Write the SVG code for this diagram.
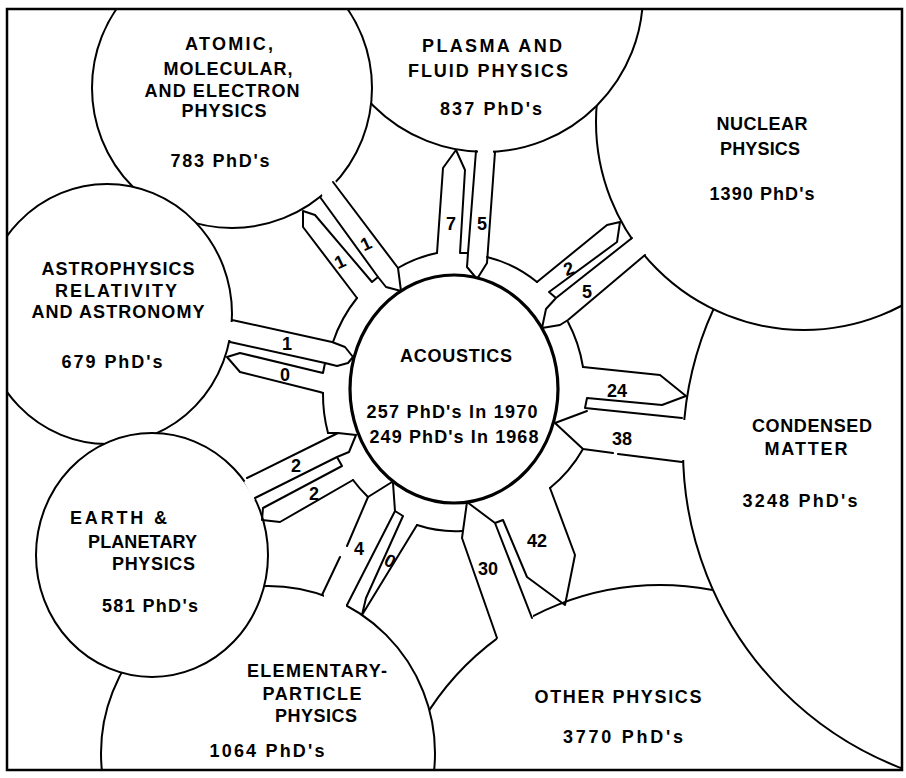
<svg xmlns="http://www.w3.org/2000/svg" width="906" height="778" viewBox="0 0 906 778">
<style>
.c{fill:#fff;stroke:#000;stroke-width:2}
.l{fill:none;stroke:#000;stroke-width:2;stroke-linejoin:round;stroke-linecap:round}
.m{fill:#fff;stroke:none}
.t{font-family:"Liberation Sans",Arial,sans-serif;font-weight:bold;font-size:18px;fill:#000;text-anchor:middle}
.s{text-anchor:start}
.n{font-family:"Liberation Sans",Arial,sans-serif;font-weight:bold;font-size:18px;fill:#000;text-anchor:middle}
</style>
<defs><clipPath id="fr"><rect x="7" y="9" width="895" height="761"/></clipPath></defs>
<rect width="906" height="778" fill="#fff"/>
<g clip-path="url(#fr)">
<g id="other-physics"><circle class="c" cx="660" cy="860" r="275"/>
<text class="t" x="618" y="703" textLength="167" lengthAdjust="spacing">OTHER PHYSICS</text>
<text class="t" x="623" y="743" textLength="120" lengthAdjust="spacing">3770 PhD's</text></g>
<g id="condensed-matter"><circle class="c" cx="1024" cy="450" r="341"/>
<text class="t" x="812" y="432" textLength="120" lengthAdjust="spacing">CONDENSED</text>
<text class="t" x="806" y="455" textLength="83" lengthAdjust="spacing">MATTER</text>
<text class="t" x="800" y="507" textLength="115" lengthAdjust="spacing">3248 PhD's</text></g>
<g id="nuclear"><circle class="c" cx="804" cy="122" r="208"/>
<text class="t" x="762" y="130" textLength="91" lengthAdjust="spacing">NUCLEAR</text>
<text class="t" x="760" y="155" textLength="80" lengthAdjust="spacing">PHYSICS</text>
<text class="t" x="762" y="200" textLength="105" lengthAdjust="spacing">1390 PhD's</text></g>
<g id="plasma"><circle class="c" cx="485" cy="-6" r="158"/>
<text class="t" x="492" y="52" textLength="140" lengthAdjust="spacing">PLASMA AND</text>
<text class="t" x="488" y="77" textLength="160" lengthAdjust="spacing">FLUID PHYSICS</text>
<text class="t" x="491" y="115" textLength="102" lengthAdjust="spacing">837 PhD's</text></g>
<g id="atomic"><circle class="c" cx="232" cy="88" r="140"/>
<text class="t" x="229" y="50" textLength="88" lengthAdjust="spacing">ATOMIC,</text>
<text class="t" x="228" y="75" textLength="129" lengthAdjust="spacing">MOLECULAR,</text>
<text class="t" x="222" y="97" textLength="155" lengthAdjust="spacing">AND ELECTRON</text>
<text class="t" x="224" y="117" textLength="85" lengthAdjust="spacing">PHYSICS</text>
<text class="t" x="220" y="167" textLength="99" lengthAdjust="spacing">783 PhD's</text></g>
<g id="astrophysics"><ellipse class="c" cx="107" cy="314" rx="125" ry="130"/>
<text class="t" x="118" y="275" textLength="153" lengthAdjust="spacing">ASTROPHYSICS</text>
<text class="t" x="116" y="297" textLength="122" lengthAdjust="spacing">RELATIVITY</text>
<text class="t" x="118" y="318" textLength="173" lengthAdjust="spacing">AND ASTRONOMY</text>
<text class="t" x="112" y="368" textLength="101" lengthAdjust="spacing">679 PhD's</text></g>
<g id="elementary-particle"><circle class="c" cx="268" cy="753" r="167"/>
<text class="t" x="317" y="677" textLength="140" lengthAdjust="spacing">ELEMENTARY-</text>
<text class="t" x="312" y="700" textLength="99" lengthAdjust="spacing">PARTICLE</text>
<text class="t" x="316" y="722" textLength="82" lengthAdjust="spacing">PHYSICS</text>
<text class="t" x="267" y="757" textLength="115" lengthAdjust="spacing">1064 PhD's</text></g>
<g id="earth-planetary"><ellipse class="c" cx="152" cy="555" rx="116" ry="122"/>
<text class="t s" x="70" y="524" textLength="97" lengthAdjust="spacing">EARTH &amp;</text>
<text class="t s" x="88" y="548" textLength="109" lengthAdjust="spacing">PLANETARY</text>
<text class="t s" x="112" y="570" textLength="83" lengthAdjust="spacing">PHYSICS</text>
<text class="t s" x="102" y="612" textLength="96" lengthAdjust="spacing">581 PhD's</text></g>
</g>
<g id="masks">
<polygon class="m" points="478,140 493,140 493,160 478,160"/>
<polygon class="m" points="321,192 333,178 342,190 326,206"/>
<polygon class="m" points="226,322 240,322 240,340 226,340"/>
<polygon class="m" points="244,482 252,476 262,494 254,500"/>
<polygon class="m" points="324,590 346,600 346,610 324,600"/>
<polygon class="m" points="533,612 533,622 498,644 496,633"/>
<polygon class="m" points="679,420 692,420 692,460 679,460"/>
<polygon class="m" points="630,242 636,232 650,250 642,258"/>
</g>
<g id="connectors" class="l">
<path d="M333,342 A130,139 0 0 1 357,298"/>
<path d="M398,268 A130,139 0 0 1 437,253"/>
<path d="M487,257 A130,139 0 0 1 537,282"/>
<path d="M568,322 A130,139 0 0 1 583,367"/>
<path d="M583,449 A130,139 0 0 1 550,488"/>
<path d="M462,531 A130,139 0 0 1 417,525"/>
<path d="M368,497 A130,139 0 0 1 353,480"/>
<path d="M328,433 A130,139 0 0 1 323,393"/>
<path id="plasma-link" d="M437,253 L443,168 L456,150 M456,150 L465,170 L460,253 L468,253 M476,151 L468,253 L467,267 L477,279 M495,152 L487,263 L477,279"/>
<path id="atomic-link" d="M333,182 L398,268 L401,291 M320,197 L378,277 L386,287 L401,291 M378,277 L372,282 L315,215 L303,211 L303,227 L357,298"/>
<path id="astro-link" d="M232,320 L332,342 L345,347 L353,357 M230,342 L325,363 L337,366 L348,363 L353,357 M325,363 L323,373 L240,353 L227,357 L240,372 L320,392 L323,393"/>
<path id="earth-link" d="M247,478 L338,433 L356,435 M328,433 L338,433 M255,498 L337,457 L349,452 L356,435 M337,457 L342,466 L263,508 L262,520 L280,522 L353,480"/>
<path id="elementary-link" d="M392,482 L368,497 L347,546 M340,557 L322,595 M393,483 L395,511 L347,605 M395,511 L403,516 L366,598 L362,615 M362,615 L417,525"/>
<path id="other-link" d="M467,502 L462,538 L497,638 M467,502 L495,523 L532,618 M495,523 L503,520 L527,577 L565,605 M550,488 L575,555 L565,605"/>
<path id="condensed-link" d="M583,367 L660,375 L686,396 L662,405 L587,398 L585,408 L682,418 M555,423 L587,411 M555,423 L583,449 L613,453 M618,454 L682,462"/>
<path id="nuclear-link" d="M537,282 L607,225 L620,222 L617,242 L549,292 L556,298 M632,238 L556,298 L546,309 L542,328 M645,255 L568,320 L560,325 L542,328"/>
</g>
<g id="flow-labels" class="n">
<text x="451" y="230">7</text><text x="482" y="230">5</text>
<text x="366" y="250" transform="rotate(-25 366 244)">1</text><text x="340" y="268" transform="rotate(-25 340 262)">1</text>
<text x="287" y="350">1</text><text x="285" y="381">0</text>
<text x="296" y="472">2</text><text x="314" y="500">2</text>
<text x="359" y="555">4</text><text x="390" y="567" transform="rotate(28 390 561)">0</text>
<text x="488" y="575">30</text><text x="537" y="547">42</text>
<text x="622" y="445">38</text><text x="617" y="397">24</text>
<text x="569" y="275" transform="rotate(-20 569 269)">2</text><text x="587" y="298">5</text>
</g>
<g id="acoustics">
<ellipse cx="454" cy="389" rx="104" ry="114" fill="#fff" stroke="#000" stroke-width="3.2"/>
<text class="t" x="456" y="362" textLength="112" lengthAdjust="spacing">ACOUSTICS</text>
<text class="t" x="452" y="418" font-size="20" textLength="171" lengthAdjust="spacing">257 PhD's In 1970</text>
<text class="t" x="454" y="443" font-size="20" textLength="169" lengthAdjust="spacing">249 PhD's In 1968</text>
</g>
<rect x="7" y="9" width="895" height="761" fill="none" stroke="#000" stroke-width="2.5"/>
</svg>
